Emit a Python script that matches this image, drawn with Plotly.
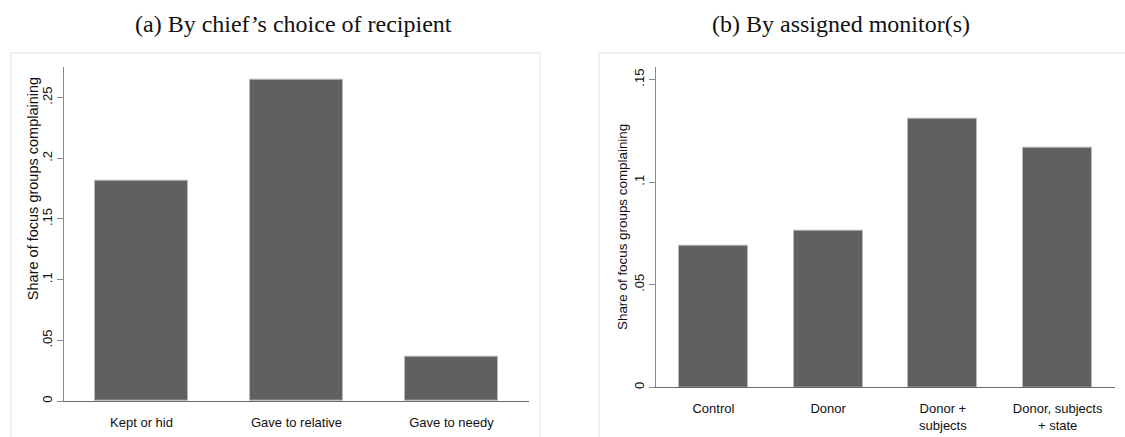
import plotly.graph_objects as go

# Panel (a): complaints by the chief's choice of recipient
recipient_cats = ["Kept or hid", "Gave to relative", "Gave to needy"]
recipient_share = [0.1815, 0.265, 0.037]
recipient_ticks = [0, 0.05, 0.1, 0.15, 0.2, 0.25]
recipient_ticktext = ["0", ".05", ".1", ".15", ".2", ".25"]

# Panel (b): complaints by assigned monitor(s)
monitor_cats = ["Control", "Donor", "Donor +<br>subjects", "Donor, subjects<br>+ state"]
monitor_share = [0.0688, 0.0762, 0.1311, 0.117]
monitor_ticks = [0, 0.05, 0.1, 0.15]
monitor_ticktext = ["0", ".05", ".1", ".15"]

W, H = 1125, 437
BAR = "#606060"
EDGE = "#b8b8b8"
AXIS = "#8a8a8a"
SANS = "Liberation Sans, Arial, sans-serif"
SERIF = "Liberation Serif, Times New Roman, serif"


def px_x(p):
    return p / W


def px_y(p):
    return 1 - p / H


fig = go.Figure()
fig.add_trace(go.Bar(x=recipient_cats, y=recipient_share, width=0.6,
                     marker=dict(color=BAR, line=dict(color=EDGE, width=1)),
                     xaxis="x", yaxis="y", showlegend=False))
fig.add_trace(go.Bar(x=monitor_cats, y=monitor_share, width=0.6,
                     marker=dict(color=BAR, line=dict(color=EDGE, width=1)),
                     xaxis="x2", yaxis="y2", showlegend=False))

xcommon = dict(type="category", showline=True, linecolor="#6a6a6a", linewidth=1,
               ticks="", showgrid=False, zeroline=False, ticklabelstandoff=9,
               tickfont=dict(family=SANS, size=13, color="#111"))
ycommon = dict(showline=True, linecolor=AXIS, linewidth=1, ticks="outside",
               ticklen=6, tickcolor=AXIS, showgrid=False, zeroline=False,
               tickangle=-90, tickfont=dict(family=SANS, size=13, color="#111"))

fig.update_layout(
    width=W, height=H, margin=dict(l=0, r=0, t=0, b=0),
    paper_bgcolor="white", plot_bgcolor="white", bargap=0,
    xaxis=dict(xcommon, domain=[px_x(64), px_x(529)], range=[-0.5, 2.5],
               anchor="y"),
    yaxis=dict(ycommon, domain=[px_y(403), px_y(67)], range=[0, 0.2754],
               tickvals=recipient_ticks, ticktext=recipient_ticktext, anchor="x"),
    xaxis2=dict(xcommon, domain=[px_x(656), px_x(1115)], range=[-0.5, 3.5],
                anchor="y2"),
    yaxis2=dict(ycommon, domain=[px_y(389), px_y(67)], range=[0, 0.1563],
                tickvals=monitor_ticks, ticktext=monitor_ticktext, anchor="x2"),
)

# light frames around each panel
for x0, x1 in [(11, 540), (599, 1130)]:
    fig.add_shape(type="rect", xref="paper", yref="paper",
                  x0=px_x(x0), x1=px_x(x1), y0=px_y(445), y1=px_y(53),
                  line=dict(color="#ececec", width=1.5), fillcolor="rgba(0,0,0,0)",
                  layer="below")

annotations = [
    dict(text="(a) By chief’s choice of recipient", x=px_x(294), y=px_y(24),
         font=dict(family=SERIF, size=24, color="#111")),
    dict(text="(b) By assigned monitor(s)", x=px_x(841), y=px_y(24),
         font=dict(family=SERIF, size=24, color="#111")),
    dict(text="Share of focus groups complaining", x=px_x(33), y=px_y(190),
         textangle=-90, font=dict(family=SANS, size=14.5, color="#111")),
    dict(text="Share of focus groups complaining", x=px_x(623), y=px_y(228),
         textangle=-90, font=dict(family=SANS, size=13.4, color="#111")),
]
for a in annotations:
    fig.add_annotation(xref="paper", yref="paper", showarrow=False,
                       xanchor="center", yanchor="middle", **a)

fig.write_html("out.html")
